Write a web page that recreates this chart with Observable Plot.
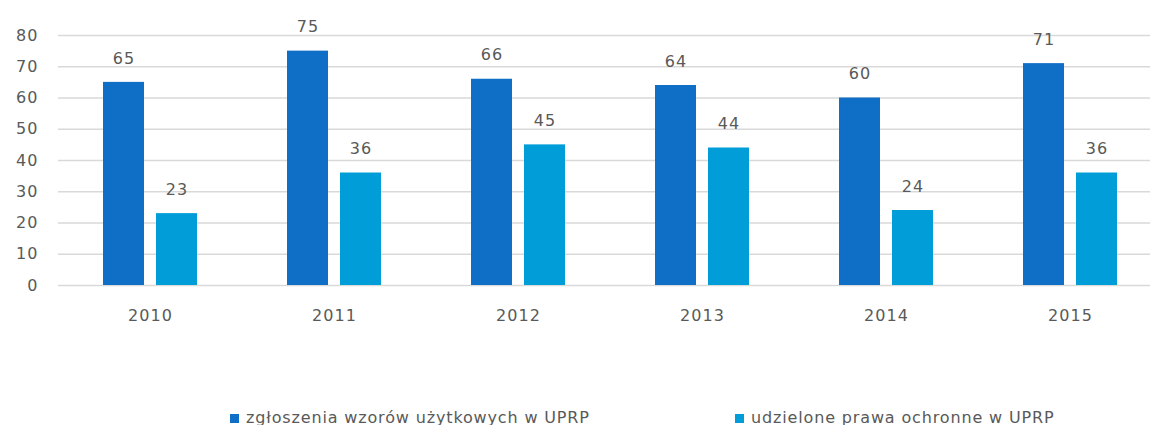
<!DOCTYPE html>
<html>
<head>
<meta charset="utf-8">
<script src="https://cdn.jsdelivr.net/npm/d3@7"></script>
<script src="https://cdn.jsdelivr.net/npm/@observablehq/plot@0.6"></script>
<style>
  html, body { margin: 0; padding: 0; background: #fff; width: 1150px; height: 425px; overflow: hidden; position: relative; }
  #chart { position: absolute; left: 0; top: 0; }
  #chart text { letter-spacing: 1.1px; }
  .legend { position: absolute; top: 408px; left: 0; width: 1150px; height: 20px; font-family: "DejaVu Sans", sans-serif; font-size: 16px; color: #595959; letter-spacing: 0.85px; }
  .item { position: absolute; top: 0; white-space: nowrap; line-height: 20px; }
  .sw { display: inline-block; width: 9px; height: 9px; margin-right: 7px; vertical-align: 0px; }
</style>
</head>
<body>
<div id="chart"></div>
<div class="legend" id="legend"></div>
<script>
const years = ["2010", "2011", "2012", "2013", "2014", "2015"];
const series = ["zgłoszenia wzorów użytkowych w UPRP", "udzielone prawa ochronne w UPRP"];
const zgloszenia = [65, 75, 66, 64, 60, 71];
const udzielone = [23, 36, 45, 44, 24, 36];
const colors = ["#0F6FC6", "#009DD9"];
const yTicks = [0, 10, 20, 30, 40, 50, 60, 70, 80];

const rows = [];
years.forEach((y, i) => {
  rows.push({year: y, series: series[0], value: zgloszenia[i]});
  rows.push({year: y, series: series[1], value: udzielone[i]});
});

const font = "DejaVu Sans, sans-serif";
const chart = Plot.plot({
  width: 1150,
  height: 330,
  marginLeft: 56,
  marginRight: 0,
  marginTop: 35,
  marginBottom: 45,
  style: {fontFamily: font, fontSize: "16px", color: "#595959", background: "#fff"},
  fx: {domain: years, range: [56, 1163], padding: 0, label: null, axis: null},
  x: {domain: series, paddingInner: 0.224, paddingOuter: 0.837, axis: null},
  y: {domain: [0, 80], label: null},
  color: {domain: series, range: colors},
  marks: [
    Plot.gridY(yTicks, {stroke: "#d9d9d9", strokeOpacity: 1, strokeWidth: 1.5}),
    Plot.axisY(yTicks, {tickSize: 0, tickPadding: 20, fontSize: 16, fill: "#595959", label: null, facetAnchor: "left"}),
    Plot.axisFx({anchor: "bottom", tickSize: 0, tickPadding: 24, fontSize: 16, fill: "#595959", label: null}),
    Plot.barY(rows, {fx: "year", x: "series", y: "value", fill: "series"}),
    Plot.text(rows, {fx: "year", x: "series", y: "value", text: "value", dy: -24, fontSize: 16, fill: "#595959"})
  ]
});
document.getElementById("chart").appendChild(chart);

const legend = document.getElementById("legend");
const lefts = [230, 735];
series.forEach((s, i) => {
  const it = document.createElement("div");
  it.className = "item";
  it.style.left = lefts[i] + "px";
  it.innerHTML = `<span class="sw" style="background:${colors[i]}"></span>${s}`;
  legend.appendChild(it);
});
</script>
</body>
</html>
